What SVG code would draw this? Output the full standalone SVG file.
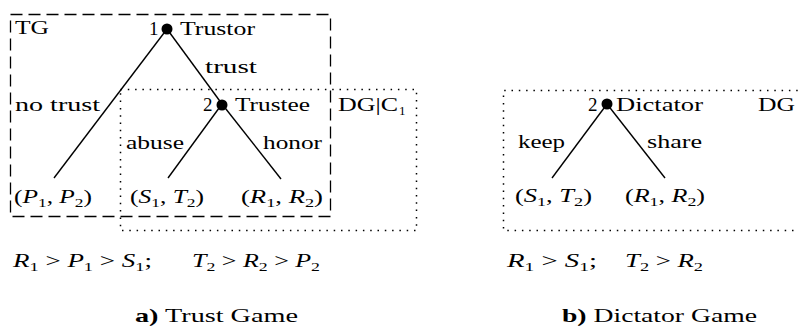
<svg xmlns="http://www.w3.org/2000/svg" width="799" height="326" viewBox="0 0 799 326">
  <style>
    text { font-family: "Liberation Serif", "DejaVu Serif", serif; font-size: 19px; fill: #000; }
    .it { font-style: italic; }
    .sub { font-size: 13px; }
    .bf { font-weight: bold; }
    .edge { stroke: #000; stroke-width: 1.4; fill: none; }
    .dashed { stroke: #000; stroke-width: 1.3; fill: none; stroke-dasharray: 12 6; }
    .dotted { stroke: #000; stroke-width: 1.5; fill: none; stroke-dasharray: 1.5 5.8; }
    .node { fill: #000; }
  </style>

  <!-- (a) Trust Game -->
  <g id="frames-a">
    <rect class="dashed" x="10.5" y="14.5" width="320" height="202"/>
    <rect class="dotted" x="120.5" y="89.5" width="296" height="141"/>
    <text x="15" y="34" textLength="34" lengthAdjust="spacingAndGlyphs">TG</text>
    <text x="338" y="111" textLength="60" lengthAdjust="spacingAndGlyphs">DG|C</text>
    <text x="399" y="115" class="sub">1</text>
  </g>

  <g id="edges-a">
    <line class="edge" x1="167" y1="29" x2="54" y2="178"/>
    <line class="edge" x1="167" y1="29" x2="222" y2="104"/>
    <line class="edge" x1="222" y1="104" x2="168" y2="178"/>
    <line class="edge" x1="222" y1="104" x2="281" y2="179"/>
    <text x="205" y="73" textLength="52" lengthAdjust="spacingAndGlyphs">trust</text>
    <text x="15" y="111" textLength="85" lengthAdjust="spacingAndGlyphs">no trust</text>
    <text x="126" y="149" textLength="58" lengthAdjust="spacingAndGlyphs">abuse</text>
    <text x="263" y="149" textLength="59" lengthAdjust="spacingAndGlyphs">honor</text>
  </g>

  <g id="trustor">
    <circle class="node" cx="167" cy="29" r="5.5"/>
    <text x="149" y="35">1</text>
    <text x="180" y="35" textLength="75" lengthAdjust="spacingAndGlyphs">Trustor</text>
  </g>

  <g id="trustee">
    <circle class="node" cx="222" cy="105" r="5.5"/>
    <text x="203" y="111">2</text>
    <text x="235" y="111" textLength="75" lengthAdjust="spacingAndGlyphs">Trustee</text>
  </g>

  <g id="leaf-no-trust">
    <text x="14" y="203" textLength="78" lengthAdjust="spacingAndGlyphs">(<tspan class="it">P</tspan><tspan class="sub" dy="4">1</tspan><tspan dy="-4">, </tspan><tspan class="it">P</tspan><tspan class="sub" dy="4">2</tspan><tspan dy="-4">)</tspan></text>
  </g>
  <g id="leaf-abuse">
    <text x="130" y="203" textLength="74" lengthAdjust="spacingAndGlyphs">(<tspan class="it">S</tspan><tspan class="sub" dy="4">1</tspan><tspan dy="-4">, </tspan><tspan class="it">T</tspan><tspan class="sub" dy="4">2</tspan><tspan dy="-4">)</tspan></text>
  </g>
  <g id="leaf-honor">
    <text x="241" y="203" textLength="82" lengthAdjust="spacingAndGlyphs">(<tspan class="it">R</tspan><tspan class="sub" dy="4">1</tspan><tspan dy="-4">, </tspan><tspan class="it">R</tspan><tspan class="sub" dy="4">2</tspan><tspan dy="-4">)</tspan></text>
  </g>

  <g id="conditions-a">
    <text x="13" y="267" textLength="139" lengthAdjust="spacingAndGlyphs"><tspan class="it">R</tspan><tspan class="sub" dy="4">1</tspan><tspan dy="-4"> &gt; </tspan><tspan class="it">P</tspan><tspan class="sub" dy="4">1</tspan><tspan dy="-4"> &gt; </tspan><tspan class="it">S</tspan><tspan class="sub" dy="4">1</tspan><tspan dy="-4">;</tspan></text>
    <text x="192" y="267" textLength="128" lengthAdjust="spacingAndGlyphs"><tspan class="it">T</tspan><tspan class="sub" dy="4">2</tspan><tspan dy="-4"> &gt; </tspan><tspan class="it">R</tspan><tspan class="sub" dy="4">2</tspan><tspan dy="-4"> &gt; </tspan><tspan class="it">P</tspan><tspan class="sub" dy="4">2</tspan></text>
  </g>
  <g id="caption-a">
    <text x="135" y="322" textLength="163" lengthAdjust="spacingAndGlyphs"><tspan class="bf">a)</tspan> Trust Game</text>
  </g>

  <!-- (b) Dictator Game -->
  <g id="frames-b">
    <path class="dotted" d="M 805 90.5 H 503.5 V 230.5 H 805"/>
    <text x="758" y="111" textLength="37" lengthAdjust="spacingAndGlyphs">DG</text>
  </g>

  <g id="edges-b">
    <line class="edge" x1="607" y1="104" x2="552" y2="178"/>
    <line class="edge" x1="607" y1="104" x2="665" y2="178"/>
    <text x="518" y="148" textLength="47" lengthAdjust="spacingAndGlyphs">keep</text>
    <text x="647" y="148" textLength="55" lengthAdjust="spacingAndGlyphs">share</text>
  </g>

  <g id="dictator">
    <circle class="node" cx="607" cy="104" r="5.5"/>
    <text x="588" y="111">2</text>
    <text x="616" y="111" textLength="87" lengthAdjust="spacingAndGlyphs">Dictator</text>
  </g>

  <g id="leaf-keep">
    <text x="515" y="202" textLength="77" lengthAdjust="spacingAndGlyphs">(<tspan class="it">S</tspan><tspan class="sub" dy="4">1</tspan><tspan dy="-4">, </tspan><tspan class="it">T</tspan><tspan class="sub" dy="4">2</tspan><tspan dy="-4">)</tspan></text>
  </g>
  <g id="leaf-share">
    <text x="625" y="202" textLength="80" lengthAdjust="spacingAndGlyphs">(<tspan class="it">R</tspan><tspan class="sub" dy="4">1</tspan><tspan dy="-4">, </tspan><tspan class="it">R</tspan><tspan class="sub" dy="4">2</tspan><tspan dy="-4">)</tspan></text>
  </g>

  <g id="conditions-b">
    <text x="507" y="267" textLength="90" lengthAdjust="spacingAndGlyphs"><tspan class="it">R</tspan><tspan class="sub" dy="4">1</tspan><tspan dy="-4"> &gt; </tspan><tspan class="it">S</tspan><tspan class="sub" dy="4">1</tspan><tspan dy="-4">;</tspan></text>
    <text x="625" y="267" textLength="78" lengthAdjust="spacingAndGlyphs"><tspan class="it">T</tspan><tspan class="sub" dy="4">2</tspan><tspan dy="-4"> &gt; </tspan><tspan class="it">R</tspan><tspan class="sub" dy="4">2</tspan></text>
  </g>
  <g id="caption-b">
    <text x="562" y="322" textLength="195" lengthAdjust="spacingAndGlyphs"><tspan class="bf">b)</tspan> Dictator Game</text>
  </g>
</svg>
